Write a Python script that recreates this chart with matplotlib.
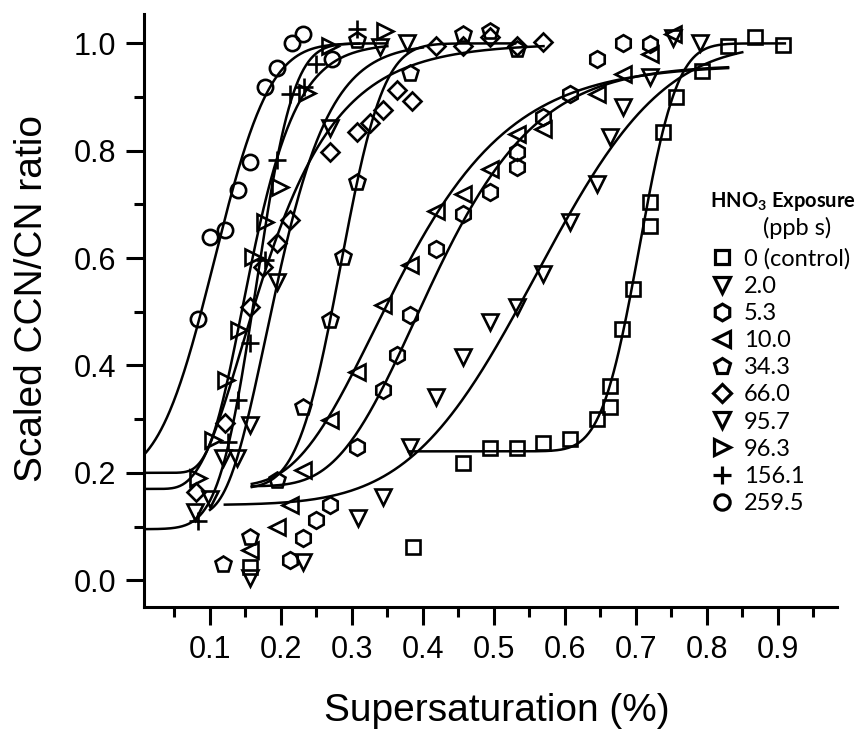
import math
import numpy as np
import matplotlib
matplotlib.use("Agg")
import matplotlib.pyplot as plt
from matplotlib.ticker import MultipleLocator

plt.rcParams['font.family'] = ['Liberation Sans', 'DejaVu Sans']
plt.rcParams['mathtext.fontset'] = 'custom'
plt.rcParams['mathtext.rm'] = 'Lato'
plt.rcParams['mathtext.bf'] = 'Lato:bold'

# HNO3 exposure (ppb s) for each series
labels = ["0 (control)", "2.0", "5.3", "10.0", "34.3", "66.0", "95.7", "96.3", "156.1", "259.5"]
markers = ["s", "v", "h", "<", "p", "D", "v", ">", "+", "o"]
msizes = [10.5, 12, 12, 12, 12, 9.5, 12, 12, 13, 11]

# measured points (supersaturation %, scaled CCN/CN)
x_ctrl = [0.156, 0.386, 0.456, 0.494, 0.532, 0.569, 0.607, 0.645, 0.663, 0.663, 0.680, 0.696, 0.720, 0.720, 0.738, 0.757, 0.793, 0.830, 0.868, 0.907]
y_ctrl = [0.025, 0.061, 0.218, 0.246, 0.246, 0.255, 0.263, 0.300, 0.322, 0.362, 0.468, 0.542, 0.660, 0.705, 0.835, 0.900, 0.948, 0.995, 1.012, 0.997]

x_2 = [0.156, 0.231, 0.308, 0.344, 0.382, 0.419, 0.457, 0.494, 0.532, 0.569, 0.607, 0.645, 0.663, 0.682, 0.720, 0.752, 0.790]
y_2 = [0.004, 0.034, 0.115, 0.155, 0.248, 0.342, 0.416, 0.481, 0.509, 0.570, 0.667, 0.738, 0.825, 0.881, 0.937, 1.010, 1.000]

x_5 = [0.213, 0.231, 0.250, 0.269, 0.307, 0.344, 0.363, 0.382, 0.419, 0.457, 0.494, 0.532, 0.532, 0.569, 0.607, 0.645, 0.682, 0.720]
y_5 = [0.037, 0.078, 0.112, 0.140, 0.248, 0.354, 0.419, 0.494, 0.617, 0.682, 0.723, 0.770, 0.797, 0.862, 0.906, 0.971, 1.000, 0.999]

x_10 = [0.156, 0.194, 0.213, 0.231, 0.269, 0.307, 0.344, 0.382, 0.419, 0.457, 0.494, 0.532, 0.569, 0.645, 0.682, 0.720, 0.752]
y_10 = [0.056, 0.100, 0.140, 0.205, 0.298, 0.388, 0.512, 0.587, 0.688, 0.719, 0.766, 0.831, 0.840, 0.905, 0.943, 0.980, 1.017]

x_34 = [0.118, 0.156, 0.194, 0.231, 0.269, 0.288, 0.307, 0.307, 0.382, 0.457, 0.494, 0.532]
y_34 = [0.031, 0.080, 0.186, 0.323, 0.484, 0.602, 0.742, 1.006, 0.944, 1.017, 1.024, 0.990]

x_66 = [0.081, 0.121, 0.156, 0.175, 0.194, 0.213, 0.269, 0.307, 0.326, 0.344, 0.364, 0.385, 0.419, 0.457, 0.494, 0.532, 0.569]
y_66 = [0.165, 0.292, 0.509, 0.583, 0.628, 0.671, 0.798, 0.835, 0.852, 0.876, 0.914, 0.893, 0.995, 0.995, 1.012, 0.996, 1.003]

x_957 = [0.079, 0.100, 0.118, 0.138, 0.157, 0.195, 0.269, 0.339, 0.377]
y_957 = [0.127, 0.152, 0.227, 0.227, 0.290, 0.556, 0.842, 0.994, 1.000]

x_963 = [0.083, 0.104, 0.123, 0.141, 0.160, 0.177, 0.199, 0.237, 0.269, 0.346]
y_963 = [0.190, 0.262, 0.373, 0.467, 0.602, 0.668, 0.733, 0.908, 0.996, 1.023]

x_156 = [0.083, 0.126, 0.139, 0.156, 0.177, 0.194, 0.213, 0.232, 0.250, 0.307]
y_156 = [0.110, 0.258, 0.335, 0.441, 0.596, 0.783, 0.905, 0.918, 0.962, 1.027]

x_259 = [0.083, 0.100, 0.121, 0.139, 0.156, 0.177, 0.194, 0.215, 0.231, 0.272]
y_259 = [0.486, 0.640, 0.652, 0.727, 0.779, 0.919, 0.954, 1.000, 1.017, 0.971]

xs = [x_ctrl, x_2, x_5, x_10, x_34, x_66, x_957, x_963, x_156, x_259]
ys = [y_ctrl, y_2, y_5, y_10, y_34, y_66, y_957, y_963, y_156, y_259]

# sigmoid fit parameters: lower, upper, centre, width
fit_lo = [0.24, 0.14, 0.175, 0.175, 0.17, 0.17, 0.12, 0.20, 0.095, 0.19]
fit_hi = [1.00, 1.00, 0.96, 0.96, 1.00, 1.00, 1.00, 1.00, 1.00, 1.00]
fit_x0 = [0.705, 0.56, 0.418, 0.37, 0.284, 0.18, 0.196, 0.16, 0.165, 0.106]
fit_w = [0.042, 0.14, 0.27, 0.333, 0.0475, 0.46, 0.30, 0.315, 0.0415, 0.0615]
fit_logx = [False, False, True, True, False, True, True, True, False, False]
fit_start = [0.38, 0.121, 0.159, 0.159, 0.159, 0.007, 0.10, 0.007, 0.007, 0.007]
fit_end = [0.91, 0.85, 0.83, 0.83, 0.53, 0.57, 0.40, 0.35, 0.35, 0.31]

erf = np.vectorize(math.erf)


def fit_curve(i):
    xx = np.linspace(fit_start[i], fit_end[i], 300)
    if fit_logx[i]:
        z = np.log(xx / fit_x0[i]) / fit_w[i]
    else:
        z = (xx - fit_x0[i]) / fit_w[i]
    frac = 0.5 * (1 + erf(z / math.sqrt(2)))
    return xx, fit_lo[i] + (fit_hi[i] - fit_lo[i]) * frac


fig = plt.figure(figsize=(8.67, 7.31), dpi=100)
ax = fig.add_axes([0.166, 0.1696, 0.799, 0.8114])

for i in range(len(labels)):
    cx, cy = fit_curve(i)
    ax.plot(cx, cy, color='black', lw=1.8, zorder=2)

handles = []
for i in range(len(labels)):
    h, = ax.plot(xs[i], ys[i], linestyle='none', marker=markers[i], ms=msizes[i],
                 mfc='none', mec='black', mew=1.9, zorder=3)
    handles.append(h)

ax.set_xlim(0.007, 0.983)
ax.set_ylim(-0.05, 1.055)
ax.xaxis.set_minor_locator(MultipleLocator(0.05))
ax.yaxis.set_minor_locator(MultipleLocator(0.1))
ax.set_xticks([0.1, 0.2, 0.3, 0.4, 0.5, 0.6, 0.7, 0.8, 0.9])
ax.set_xticklabels(['0.1', '0.2', '0.3', '0.4', '0.5', '0.6', '0.7', '0.8', '0.9'])
ax.set_yticks([0.0, 0.2, 0.4, 0.6, 0.8, 1.0])
ax.set_yticklabels(['0.0', '0.2', '0.4', '0.6', '0.8', '1.0'])

for side in ['top', 'right']:
    ax.spines[side].set_visible(False)
for side in ['left', 'bottom']:
    ax.spines[side].set_linewidth(2.2)

ax.tick_params(which='major', direction='out', length=13, width=2.2, labelsize=22, pad=7)
ax.tick_params(which='minor', direction='out', length=7, width=2.2)

ax.set_xlabel('Supersaturation (%)', fontsize=28)
ax.set_ylabel('Scaled CCN/CN ratio', fontsize=28)
ax.xaxis.set_label_coords(0.51, -0.145)
ax.yaxis.set_label_coords(-0.135, 0.52)

leg = ax.legend(handles, labels, loc='upper left', bbox_to_anchor=(0.822, 0.605),
                frameon=False, borderaxespad=0, borderpad=0, handlelength=0.75,
                handletextpad=0.55, labelspacing=0.26, markerscale=1.0,
                prop={'family': 'Lato', 'size': 17})
for lh in leg.legend_handles:
    lh.set_markeredgewidth(2.3)

ax.text(0.817, 0.683, 'HNO$_\\mathbf{3}$ Exposure', transform=ax.transAxes,
        fontfamily='Lato', fontweight='bold', fontsize=14.5, va='center', ha='left')
ax.text(0.893, 0.639, '(ppb s)', transform=ax.transAxes,
        fontfamily='Lato', fontsize=17, va='center', ha='left')

fig.savefig('out.png', dpi=100)
